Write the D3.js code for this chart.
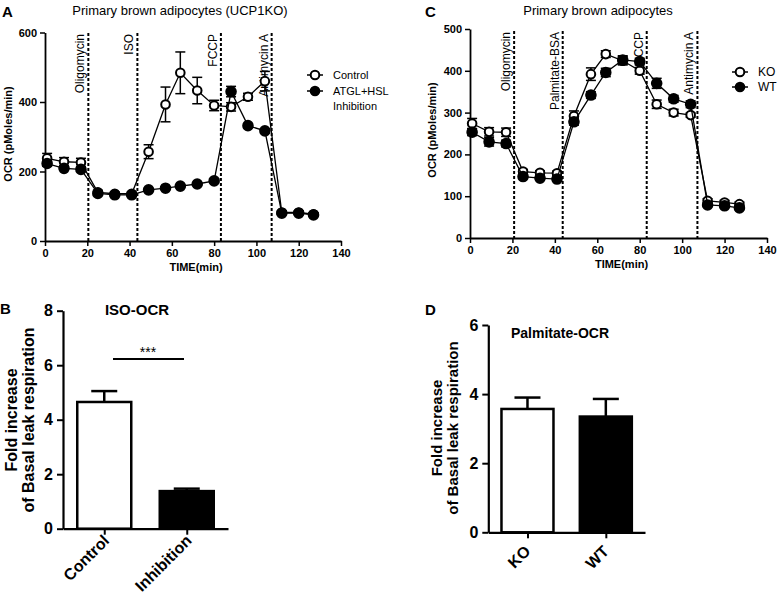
<!DOCTYPE html>
<html>
<head>
<meta charset="utf-8">
<script src="https://cdn.jsdelivr.net/npm/d3@7"></script>
<style>
body { margin: 0; background: #fff; }
text { font-family: "Liberation Sans", Arial, sans-serif; fill: #000; }
</style>
</head>
<body>
<div id="chart"></div>
<script>
// seahorse measurement times (min), shared by both traces
const time = [1, 9, 17, 25, 33, 41, 49, 57, 64, 72, 80, 88, 96, 104, 112, 120, 127];
const xTicks = [0, 20, 40, 60, 80, 100, 120, 140];

// panel A - UCP1KO cells, control vs ATGL+HSL inhibition
const controlA    = [238, 228, 226, 140, 136, 136, 257, 393, 484, 433, 390, 386, 415, 460, 82, 82, 77];
const controlAErr = [14, 12, 12, 6, 5, 5, 20, 50, 60, 38, 15, 12, 10, 28, 5, 5, 4];
const inhibA      = [223, 209, 206, 137, 133, 133, 147, 152, 158, 164, 173, 430, 332, 317, 80, 80, 75];
const inhibAErr   = [8, 6, 6, 5, 4, 4, 4, 4, 4, 4, 5, 15, 6, 6, 4, 4, 4];
const injectA = [[20.5, 'Oligomycin'], [43.7, 'ISO'], [83.2, 'FCCP'], [107.2, 'Antimycin A']];
const yTicksA = [0, 200, 400, 600];

// panel C - KO vs WT with palmitate
const koC    = [274, 254, 253, 159, 156, 155, 292, 392, 440, 424, 400, 320, 300, 294, 89, 85, 81];
const koCErr = [12, 10, 10, 5, 5, 5, 12, 15, 8, 10, 8, 10, 8, 5, 5, 5, 5];
const wtC    = [253, 230, 226, 147, 143, 141, 278, 342, 396, 426, 422, 370, 333, 320, 79, 77, 72];
const wtCErr = [8, 10, 8, 5, 5, 5, 8, 8, 10, 10, 8, 12, 8, 8, 4, 4, 4];
const injectC = [[20.8, 'Oligomycin'], [43.7, 'Palmitate-BSA'], [83.3, 'CCP'], [107.2, 'Antimycin A']];
const yTicksC = [0, 100, 200, 300, 400, 500];

// panel B / D bars
const groupsB = ['Control', 'Inhibition'];
const foldB   = [4.65, 1.38];
const foldBErr = [0.40, 0.09];
const yTicksB = [0, 2, 4, 6, 8];

const groupsD = ['KO', 'WT'];
const foldD   = [3.57, 3.35];
const foldDErr = [0.33, 0.51];
const yTicksD = [0, 2, 4, 6];

const svg = d3.select('#chart').append('svg')
  .attr('width', 779).attr('height', 603);

function panelLetter(x, y, t) {
  svg.append('text').attr('x', x).attr('y', y)
    .attr('font-size', 15).attr('font-weight', 'bold').text(t);
}

function linePanel(cfg) {
  const x = d3.scaleLinear().domain([0, 140]).range(cfg.xr);
  const y = d3.scaleLinear().domain(cfg.yd).range(cfg.yr);
  const g = svg.append('g');

  // axes
  const xa = g.append('g').attr('transform', `translate(0,${cfg.yr[0]})`)
    .call(d3.axisBottom(x).tickValues(xTicks).tickSize(5).tickPadding(3).tickSizeOuter(0));
  const ya = g.append('g').attr('transform', `translate(${cfg.xr[0]},0)`)
    .call(d3.axisLeft(y).tickValues(cfg.yTicks).tickSize(5).tickPadding(3).tickSizeOuter(0));
  [xa, ya].forEach(a => {
    a.select('.domain').attr('stroke-width', 1.8);
    a.selectAll('.tick line').attr('stroke-width', 1.5);
    a.selectAll('.tick text').attr('font-size', 11).attr('font-weight', 'bold')
      .attr('font-family', '"Liberation Sans", Arial, sans-serif');
  });

  g.append('text').attr('x', (cfg.xr[0] + cfg.xr[1]) / 2 + 3).attr('y', cfg.yr[0] + 30)
    .attr('text-anchor', 'middle').attr('font-size', 11).attr('font-weight', 'bold')
    .text('TIME(min)');
  g.append('text')
    .attr('transform', `translate(${cfg.ylabX},${cfg.ylabY}) rotate(-90)`)
    .attr('text-anchor', 'middle').attr('font-size', 11).attr('font-weight', 'bold')
    .text('OCR (pMoles/min)');

  g.append('text').attr('x', cfg.titleX).attr('y', 15).attr('text-anchor', 'middle')
    .attr('font-size', 13).text(cfg.title);

  // injection markers
  cfg.inject.forEach(([t, lab]) => {
    g.append('line').attr('x1', x(t)).attr('x2', x(t))
      .attr('y1', cfg.dashTop).attr('y2', cfg.yr[0])
      .attr('stroke', '#000').attr('stroke-width', 2).attr('stroke-dasharray', '3,2');
    g.append('text')
      .attr('transform', `translate(${x(t) - 4},${cfg.dashTop + 1}) rotate(-90)`)
      .attr('text-anchor', 'end').attr('font-size', 12).text(lab);
  });

  const line = d3.line().x((d, i) => x(time[i])).y(d => y(d));
  cfg.series.forEach(s => {
    g.append('path').datum(s.v).attr('d', line)
      .attr('fill', 'none').attr('stroke', '#000').attr('stroke-width', 1.3);
    const eb = g.append('g');
    s.v.forEach((v, i) => {
      const cx = x(time[i]);
      eb.append('line').attr('x1', cx).attr('x2', cx)
        .attr('y1', y(v - s.e[i])).attr('y2', y(v + s.e[i]));
      [v - s.e[i], v + s.e[i]].forEach(w => {
        eb.append('line').attr('x1', cx - 5).attr('x2', cx + 5)
          .attr('y1', y(w)).attr('y2', y(w));
      });
    });
    eb.selectAll('line').attr('stroke', '#000').attr('stroke-width', 1.5);
    g.selectAll(null).data(s.v).enter().append('circle')
      .attr('cx', (d, i) => x(time[i])).attr('cy', d => y(d))
      .attr('r', s.filled ? 4.8 : 4.3)
      .attr('fill', s.filled ? '#000' : '#fff')
      .attr('stroke', '#000').attr('stroke-width', 2);
  });

  // legend
  cfg.legend.forEach((l, i) => {
    const ly = cfg.legY + i * cfg.legStep;
    g.append('line').attr('x1', cfg.legX - 8).attr('x2', cfg.legX + 8)
      .attr('y1', ly).attr('y2', ly).attr('stroke', '#000').attr('stroke-width', 1.5);
    g.append('circle').attr('cx', cfg.legX).attr('cy', ly).attr('r', 4.3)
      .attr('fill', l.filled ? '#000' : '#fff').attr('stroke', '#000').attr('stroke-width', 2);
    l.text.forEach((t, j) => {
      g.append('text').attr('x', cfg.legX + 18).attr('y', ly + 4 + j * 15)
        .attr('font-size', cfg.legFont).text(t);
    });
  });
}

function barPanel(cfg) {
  const x = d3.scalePoint().domain(cfg.groups).range(cfg.xr).padding(0.5);
  const y = d3.scaleLinear().domain(cfg.yd).range(cfg.yr);
  const g = svg.append('g');

  const ya = g.append('g').attr('transform', `translate(${cfg.xr[0]},0)`)
    .call(d3.axisLeft(y).tickValues(cfg.yTicks).tickFormat(d3.format('d'))
      .tickSize(6).tickPadding(4).tickSizeOuter(0));
  ya.selectAll('.tick text').attr('font-size', 16).attr('font-weight', 'bold')
    .attr('font-family', '"Liberation Sans", Arial, sans-serif');

  // bars
  cfg.groups.forEach((k, i) => {
    const cx = x(k), top = y(cfg.vals[i]), et = y(cfg.vals[i] + cfg.errs[i]);
    g.append('line').attr('x1', cx).attr('x2', cx).attr('y1', top).attr('y2', et)
      .attr('stroke', '#000').attr('stroke-width', 2.5);
    g.append('line').attr('x1', cx - 13).attr('x2', cx + 13).attr('y1', et).attr('y2', et)
      .attr('stroke', '#000').attr('stroke-width', 2.5);
    g.append('rect').attr('x', cx - cfg.bw / 2).attr('y', top)
      .attr('width', cfg.bw).attr('height', cfg.yr[0] - top)
      .attr('fill', cfg.fills[i]).attr('stroke', '#000').attr('stroke-width', 2.5);
  });

  const xa = g.append('g').attr('transform', `translate(0,${cfg.yr[0]})`)
    .call(d3.axisBottom(x).tickSize(6).tickSizeOuter(0));
  xa.selectAll('.tick text').remove();
  cfg.groups.forEach(k => {
    g.append('text')
      .attr('transform', `translate(${x(k) + cfg.labDx},${cfg.yr[0] + cfg.labDy}) rotate(-45)`)
      .attr('text-anchor', 'end').attr('font-size', 16).attr('font-weight', 'bold').text(k);
  });
  [xa, ya].forEach(a => {
    a.select('.domain').attr('stroke-width', 2.2);
    a.selectAll('.tick line').attr('stroke-width', 2);
  });

  g.append('text').attr('x', cfg.titleX).attr('y', cfg.titleY).attr('text-anchor', 'middle')
    .attr('font-size', cfg.titleFont).attr('font-weight', 'bold').text(cfg.title);
  g.append('text')
    .attr('transform', `translate(${cfg.ylabX},${cfg.ylabY}) rotate(-90)`)
    .attr('text-anchor', 'middle').attr('font-size', cfg.ylabFont).attr('font-weight', 'bold')
    .call(t => {
      t.append('tspan').attr('x', 0).attr('dy', 0).text('Fold increase');
      t.append('tspan').attr('x', 0).attr('dy', cfg.ylabFont * 1.05).text('of Basal leak respiration');
    });
  return { x, y, g };
}

// ---- panel A ----
panelLetter(2, 17, 'A');
linePanel({
  xr: [45, 341], yd: [0, 600], yr: [241, 32.5], yTicks: yTicksA,
  title: 'Primary brown adipocytes (UCP1KO)', titleX: 180,
  ylabX: 12, ylabY: 134, dashTop: 33, inject: injectA,
  series: [
    { v: controlA, e: controlAErr, filled: false },
    { v: inhibA, e: inhibAErr, filled: true }
  ],
  legX: 315, legY: 75, legStep: 16, legFont: 11,
  legend: [
    { filled: false, text: ['Control'] },
    { filled: true, text: ['ATGL+HSL', 'Inhibition'] }
  ]
});

// ---- panel C ----
panelLetter(425, 17, 'C');
linePanel({
  xr: [470, 767], yd: [0, 500], yr: [238, 29], yTicks: yTicksC,
  title: 'Primary brown adipocytes', titleX: 598,
  ylabX: 436, ylabY: 130, dashTop: 31, inject: injectC,
  series: [
    { v: koC, e: koCErr, filled: false },
    { v: wtC, e: wtCErr, filled: true }
  ],
  legX: 740, legY: 72, legStep: 15, legFont: 12,
  legend: [
    { filled: false, text: ['KO'] },
    { filled: true, text: ['WT'] }
  ]
});

// ---- panel B ----
panelLetter(0, 314, 'B');
const b = barPanel({
  groups: groupsB, vals: foldB, errs: foldBErr, fills: ['#fff', '#000'],
  xr: [63, 228], yd: [0, 8], yr: [528.7, 310.7], yTicks: yTicksB, bw: 54,
  labDx: 6, labDy: 13,
  title: 'ISO-OCR', titleX: 137, titleY: 315, titleFont: 15,
  ylabX: 17, ylabY: 420, ylabFont: 16
});
// significance bar
b.g.append('line').attr('x1', 113).attr('x2', 184).attr('y1', 359).attr('y2', 359)
  .attr('stroke', '#000').attr('stroke-width', 2);
b.g.append('text').attr('x', 148).attr('y', 357).attr('text-anchor', 'middle')
  .attr('font-size', 14).text('***');

// ---- panel D ----
panelLetter(425, 315, 'D');
barPanel({
  groups: groupsD, vals: foldD, errs: foldDErr, fills: ['#fff', '#000'],
  xr: [488.3, 645], yd: [0, 6], yr: [532.3, 325], yTicks: yTicksD, bw: 52,
  labDx: 4, labDy: 20,
  title: 'Palmitate-OCR', titleX: 560, titleY: 338, titleFont: 14,
  ylabX: 442, ylabY: 428, ylabFont: 15
});
</script>
</body>
</html>
